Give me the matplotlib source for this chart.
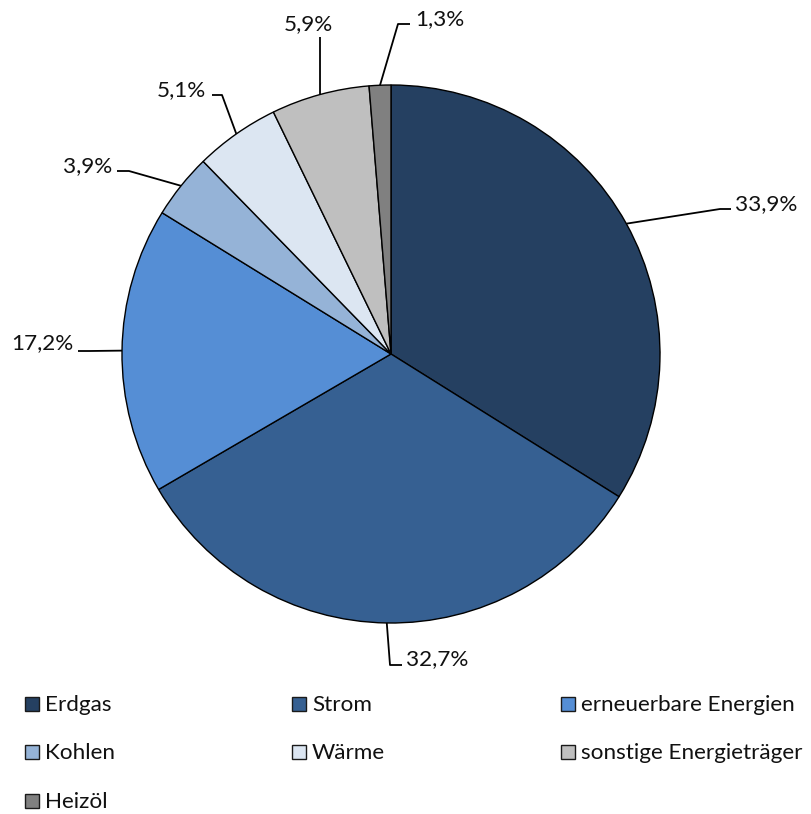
import matplotlib
matplotlib.use("Agg")
import matplotlib.pyplot as plt
from matplotlib.patches import Rectangle
import numpy as np

categories = ["Erdgas", "Strom", "erneuerbare Energien", "Kohlen", "Wärme",
              "sonstige Energieträger", "Heizöl"]
values = [33.9, 32.7, 17.2, 3.9, 5.1, 5.9, 1.3]
labels = ["33,9%", "32,7%", "17,2%", "3,9%", "5,1%", "5,9%", "1,3%"]
colors = ["#254061", "#366092", "#558ED5", "#95B3D7", "#DCE6F2", "#BFBFBF", "#808080"]

W, H = 811, 814
plt.rcParams['font.family'] = ['Lato', 'DejaVu Sans']
FS = 16.2

fig = plt.figure(figsize=(W / 100, H / 100), dpi=100)
ax = fig.add_axes([0, 0, 1, 1])

def py(y):
    return H - y

cx, cy, R = 391, py(354), 269
wedges, _ = ax.pie(values, colors=colors, startangle=90, counterclock=False,
                   center=(cx, cy), radius=R,
                   wedgeprops=dict(edgecolor="black", linewidth=1.0))
ax.set_xlim(0, W)
ax.set_ylim(0, H)
ax.set_aspect("equal")
ax.axis("off")

# leader line layout: (elbow, end of line, text position, alignment)
layout = [
    ((720, 209), (731, 209), (735, 210), "left"),
    ((390, 665), (402, 665), (406, 665), "left"),
    ((90, 351), (78, 351), (73, 349), "right"),
    ((129, 171), (117, 171), (112, 172), "right"),
    ((222, 95), (212, 95), (206, 96), "right"),
    ((320, 37), (320, 37), (308, 30), "center"),
    ((398, 24), (410, 24), (415, 25), "left"),
]

for w, lab, (elb, end, tpos, ha) in zip(wedges, labels, layout):
    mid = np.deg2rad((w.theta1 + w.theta2) / 2)
    ex = cx + R * np.cos(mid)
    ey = cy + R * np.sin(mid)
    xs = [ex, elb[0], end[0]]
    ys = [ey, py(elb[1]), py(end[1])]
    ax.plot(xs, ys, color="black", linewidth=1.3, solid_capstyle="butt")
    ax.text(tpos[0], py(tpos[1]), lab, ha=ha, va="baseline", fontsize=FS,
            color="#111111")

# legend (manual grid)
col_x = [25, 292, 561]
row_y = [704, 752, 801]
for i, (cat, col) in enumerate(zip(categories, colors)):
    x0 = col_x[i % 3]
    yc = row_y[i // 3]
    ax.add_patch(Rectangle((x0, py(yc) - 7), 14, 14, facecolor=col,
                           edgecolor="#1a1a1a", linewidth=1.0))
    ax.text(x0 + 20, py(yc + 7), cat, ha="left", va="baseline", fontsize=FS,
            color="#111111")

fig.savefig("out.png", dpi=100)
